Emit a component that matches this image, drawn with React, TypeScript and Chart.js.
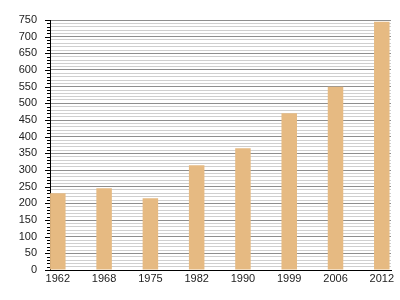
import React, { useEffect, useRef } from "react";
import { Chart, registerables } from "chart.js";

Chart.register(...registerables);

const years = ["1962", "1968", "1975", "1982", "1990", "1999", "2006", "2012"];
const values = [230, 245, 215, 314, 365, 470, 550, 745];
const yMin = 0;
const yMax = 750;
const yStep = 10;
const yLabelStep = 50;

const FONT = "'Liberation Sans', Arial, Helvetica, sans-serif";

const minorTicksPlugin = {
  id: "minorTicks",
  afterDraw(chart: any) {
    const scale = chart.scales.y;
    const ctx = chart.ctx;
    ctx.save();
    ctx.strokeStyle = "#000";
    ctx.lineWidth = 1;
    ctx.beginPath();
    for (const t of scale.ticks) {
      const py = Math.round(scale.getPixelForValue(t.value)) + 0.5;
      const len = t.value % yLabelStep === 0 ? 5 : 3;
      const x1 = Math.round(scale.right);
      ctx.moveTo(x1 - len, py);
      ctx.lineTo(x1, py);
    }
    ctx.stroke();
    ctx.restore();
  },
};

export default function App() {
  const ref = useRef<HTMLCanvasElement | null>(null);

  useEffect(() => {
    if (!ref.current) return;
    const chart = new Chart(ref.current, {
      type: "bar",
      data: {
        datasets: [
          {
            data: values.map((v, i) => ({ x: i, y: v })),
            backgroundColor: "#E6BA82",
            borderWidth: 0,
            barPercentage: 0.335,
            categoryPercentage: 1,
          },
        ],
      },
      options: {
        animation: false,
        responsive: false,
        layout: { padding: { top: 20, right: 9, bottom: 0, left: 0 } },
        plugins: {
          legend: { display: false },
          tooltip: { enabled: false },
        },
        scales: {
          x: {
            type: "linear",
            offset: false,
            min: -0.169,
            max: 7.199,
            afterBuildTicks: (scale: any) => {
              scale.ticks = years.map((_, i) => ({ value: i }));
            },
            afterFit: (scale: any) => {
              scale.height = 30;
            },
            grid: { display: false, drawTicks: false },
            border: { display: true, color: "#000", width: 1 },
            ticks: {
              autoSkip: false,
              maxRotation: 0,
              padding: 2,
              color: "#222",
              font: { family: FONT, size: 11 },
              callback: (v: any) => years[v as number] ?? "",
            },
          },
          y: {
            min: yMin,
            max: yMax,
            afterFit: (scale: any) => {
              scale.width = 50;
            },
            grid: {
              drawTicks: false,
              lineWidth: 1,
              color: (c: any) =>
                c.tick && c.tick.value % yLabelStep === 0 ? "#8e8e8e" : "#cfcfcf",
            },
            border: { display: true, color: "#000", width: 1 },
            ticks: {
              stepSize: yStep,
              autoSkip: false,
              padding: 13,
              color: "#222",
              font: { family: FONT, size: 11 },
              callback: (v: any) => (Number(v) % yLabelStep === 0 ? String(v) : ""),
            },
          },
        },
      },
      plugins: [minorTicksPlugin],
    } as any);
    return () => chart.destroy();
  }, []);

  return (
    <div style={{ position: "absolute", left: 0, top: 0, width: 400, height: 300, background: "#fff" }}>
      <canvas ref={ref} width={400} height={300} />
    </div>
  );
}
